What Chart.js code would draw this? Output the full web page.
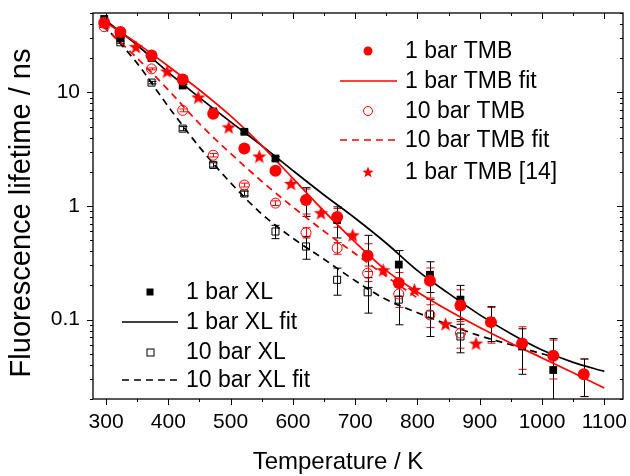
<!DOCTYPE html>
<html>
<head>
<meta charset="utf-8">
<script src="https://cdn.jsdelivr.net/npm/chart.js@4.4.1/dist/chart.umd.min.js"></script>
<style>
  html, body { margin: 0; padding: 0; background: #fff; }
  #wrap { width: 630px; height: 476px; }
</style>
</head>
<body>
<div id="wrap"><canvas id="chart" width="630" height="476"></canvas></div>
<script>
// Temperaturen der Messpunkte (K)
const tempPts = [297, 323, 373, 423, 472, 522, 572, 621, 671, 720, 770, 820, 869, 918, 968, 1018, 1067];
const tempPts10 = tempPts.slice(0, 13);
const tempLit = [348, 398, 448, 497, 546, 597, 645, 696, 745, 795, 845, 894];

// Lebensdauern (ns) und Fehler
const tmb1 = [41, 34, 21.1, 13.0, 6.5, 3.2, 2.04, 1.13, 0.80, 0.365, 0.21, 0.22, 0.133, 0.095, 0.0615, 0.048, 0.033];
const tmb1Err = [0.8, 0.6, 0.4, 0.3, 0.15, 0.1, 0.08, 0.28, 0.15, 0.1, 0.05, 0.065, 0.05, 0.033, 0.025, 0.018, 0.012];
const xl1 = [44.3, 30.5, 20.1, 11.5, 6.8, 4.5, 2.62, 1.13, 0.753, 0.372, 0.305, 0.248, 0.15, 0.097, 0.058, 0.036, 0.033];
const xl1Err = [0.8, 0.6, 0.4, 0.3, 0.2, 0.15, 0.1, 0.32, 0.23, 0.18, 0.1, 0.075, 0.05, 0.033, 0.025, 0.032, 0.012];
const tmb10 = [37.9, 32, 16.1, 6.95, 2.8, 1.53, 1.06, 0.583, 0.426, 0.256, 0.168, 0.11, 0.076];
const tmb10Err = [0.6, 0.5, 0.3, 0.2, 0.1, 0.06, 0.05, 0.06, 0.05, 0.04, 0.04, 0.025, 0.02];
const xl10 = [40, 27.6, 12.2, 4.8, 2.3, 1.29, 0.596, 0.44, 0.224, 0.174, 0.15, 0.111, 0.071];
const xl10Err = [0.6, 0.5, 0.3, 0.2, 0.1, 0.06, 0.08, 0.1, 0.06, 0.06, 0.06, 0.04, 0.02];
const tmbLit = [25.3, 15.4, 9.1, 4.97, 2.75, 1.58, 0.873, 0.557, 0.275, 0.184, 0.092, 0.062];

// Fitkurven
const fitT = [295, 350, 400, 450, 500, 550, 600, 650, 700, 750, 800, 850, 900, 950, 1000, 1050, 1100];
const xl1Fit = [45, 26, 15, 9.0, 5.5, 3.4, 2.05, 1.25, 0.78, 0.47, 0.27, 0.17, 0.11, 0.075, 0.054, 0.042, 0.035];
const tmb1Fit = [43, 27, 17, 10.5, 6.2, 3.4, 1.75, 0.9, 0.48, 0.27, 0.175, 0.12, 0.085, 0.062, 0.046, 0.034, 0.025];
const tmb10FitT = [295, 350, 400, 450, 500, 550, 600, 650, 700, 750, 800];
const tmb10Fit = [38, 20, 10.5, 5.3, 2.9, 1.65, 0.98, 0.6, 0.38, 0.24, 0.155];
const xl10FitT = [295, 350, 400, 450, 500, 550, 600, 650, 700, 750, 800, 850, 900, 950, 1000, 1025];
const xl10Fit = [40, 18, 7.5, 3.3, 1.6, 0.85, 0.52, 0.34, 0.22, 0.15, 0.115, 0.09, 0.072, 0.06, 0.05, 0.046];

// Achsen
const xTicks = [300, 400, 500, 600, 700, 800, 900, 1000, 1100];
const yTicks = [0.1, 1, 10];

const ROT = '#ff0000';
const FONT = "'Liberation Sans', Arial, sans-serif";

function pts(xs, ys) {
    return xs.map((x, i) => ({ x: x, y: ys[i] }));
}

function sternPfad(ctx, cx, cy, r) {
    ctx.beginPath();
    for (let i = 0; i < 10; i++) {
        const rr = i % 2 === 0 ? r : r * 0.42;
        const ang = -Math.PI / 2 + i * Math.PI / 5;
        const px = cx + rr * Math.cos(ang), py = cy + rr * Math.sin(ang);
        if (i === 0) ctx.moveTo(px, py); else ctx.lineTo(px, py);
    }
    ctx.closePath();
}

function sternBild(size) {
    const c = document.createElement('canvas');
    c.width = c.height = size;
    const g = c.getContext('2d');
    g.fillStyle = ROT;
    sternPfad(g, size / 2, size / 2 + size * 0.06, size / 2);
    g.fill();
    return c;
}

const fehlerBalken = {
    id: 'fehlerBalken',
    beforeDatasetsDraw(chart) {
        const ctx = chart.ctx, a = chart.chartArea, ys = chart.scales.y;
        ctx.save();
        ctx.beginPath();
        ctx.rect(a.left, a.top, a.right - a.left, a.bottom - a.top);
        ctx.clip();
        chart.data.datasets.forEach((ds, di) => {
            if (!ds.fehler) return;
            const meta = chart.getDatasetMeta(di);
            ctx.strokeStyle = ds.borderColor;
            ctx.lineWidth = 1;
            meta.data.forEach((el, i) => {
                const v = ds.data[i].y, e = ds.fehler[i];
                const top = ys.getPixelForValue(v + e);
                const lo = v - e > 0 ? ys.getPixelForValue(v - e) : a.bottom + 5;
                const x = Math.round(el.x) + 0.5;
                ctx.beginPath();
                ctx.moveTo(x, top); ctx.lineTo(x, lo);
                ctx.moveTo(x - 4, top); ctx.lineTo(x + 4, top);
                ctx.moveTo(x - 4, lo); ctx.lineTo(x + 4, lo);
                ctx.stroke();
            });
        });
        ctx.restore();
    }
};

const rahmen = {
    id: 'rahmen',
    afterDraw(chart) {
        const ctx = chart.ctx, a = chart.chartArea;
        const xs = chart.scales.x, ys = chart.scales.y;
        ctx.save();
        ctx.strokeStyle = '#000';
        ctx.lineWidth = 1.3;
        ctx.strokeRect(a.left, a.top, a.right - a.left, a.bottom - a.top);

        ctx.lineWidth = 1;
        ctx.beginPath();
        for (let t = 300; t <= 1100; t += 50) {
            const px = Math.round(xs.getPixelForValue(t)) + 0.5;
            const len = t % 100 === 0 ? 6 : 3;
            ctx.moveTo(px, a.bottom); ctx.lineTo(px, a.bottom + len);
            ctx.moveTo(px, a.top); ctx.lineTo(px, a.top + len);
        }
        [0.01, 0.1, 1, 10].forEach(d => {
            for (let k = 1; k <= 9; k++) {
                const v = k * d;
                if (v < 0.02 || v > 50) continue;
                const py = Math.round(ys.getPixelForValue(v)) + 0.5;
                const len = k === 1 ? 6 : 3;
                ctx.moveTo(a.left, py); ctx.lineTo(a.left - len, py);
                ctx.moveTo(a.right, py); ctx.lineTo(a.right - len, py);
            }
        });
        ctx.stroke();

        // Achsentitel
        ctx.fillStyle = '#000';
        ctx.textAlign = 'center';
        ctx.textBaseline = 'middle';
        ctx.font = '24px ' + FONT;
        ctx.fillText('Temperature / K', 338, 462);
        ctx.save();
        ctx.translate(22, 213);
        ctx.rotate(-Math.PI / 2);
        ctx.font = '29px ' + FONT;
        ctx.fillText('Fluorescence lifetime / ns', 0, 0);
        ctx.restore();

        // Legenden
        const eintraege = [
            { x: 368, y: 51, typ: 'kreis', farbe: ROT, text: '1 bar TMB', tx: 405 },
            { x: 368, y: 81, typ: 'linie', farbe: ROT, text: '1 bar TMB fit', tx: 405, l: 340, r: 397 },
            { x: 368, y: 111, typ: 'kreisOffen', farbe: ROT, text: '10 bar TMB', tx: 405 },
            { x: 368, y: 140, typ: 'strich', farbe: ROT, text: '10 bar TMB fit', tx: 405, l: 340, r: 397 },
            { x: 368, y: 172, typ: 'stern', farbe: ROT, text: '1 bar TMB [14]', tx: 405 },
            { x: 150, y: 292, typ: 'quadrat', farbe: '#000', text: '1 bar XL', tx: 186 },
            { x: 150, y: 322, typ: 'linie', farbe: '#000', text: '1 bar XL fit', tx: 186, l: 122, r: 178 },
            { x: 150, y: 352, typ: 'quadratOffen', farbe: '#000', text: '10 bar XL', tx: 186 },
            { x: 150, y: 380, typ: 'strich', farbe: '#000', text: '10 bar XL fit', tx: 186, l: 122, r: 178 }
        ];
        ctx.font = '23px ' + FONT;
        ctx.textAlign = 'left';
        eintraege.forEach(e => {
            ctx.fillStyle = e.farbe;
            ctx.strokeStyle = e.farbe;
            ctx.lineWidth = 1;
            ctx.setLineDash([]);
            if (e.typ === 'kreis') {
                ctx.beginPath(); ctx.arc(e.x, e.y, 4.5, 0, Math.PI * 2); ctx.fill();
            } else if (e.typ === 'kreisOffen') {
                ctx.beginPath(); ctx.arc(e.x, e.y, 4.5, 0, Math.PI * 2); ctx.stroke();
            } else if (e.typ === 'quadrat') {
                ctx.fillRect(e.x - 3.5, e.y - 3.5, 7, 7);
            } else if (e.typ === 'quadratOffen') {
                ctx.strokeRect(e.x - 3, e.y - 3, 7, 7);
            } else if (e.typ === 'stern') {
                sternPfad(ctx, e.x, e.y + 0.5, 6); ctx.fill();
            } else {
                ctx.lineWidth = 1.6;
                if (e.typ === 'strich') ctx.setLineDash([7, 5]);
                ctx.beginPath(); ctx.moveTo(e.l, e.y); ctx.lineTo(e.r, e.y); ctx.stroke();
                ctx.setLineDash([]);
            }
            ctx.fillStyle = '#000';
            ctx.fillText(e.text, e.tx, e.y + 1);
        });
        ctx.restore();
    }
};

const sternPunkt = sternBild(15);

function fitLinie(label, xs, ys, farbe, gestrichelt) {
    return {
        label: label, data: pts(xs, ys), showLine: true, pointRadius: 0,
        borderColor: farbe, borderWidth: 1.7, borderDash: gestrichelt ? [7, 5] : [],
        cubicInterpolationMode: 'monotone', order: 10
    };
}

new Chart(document.getElementById('chart'), {
    type: 'scatter',
    data: {
        datasets: [
            { label: '1 bar TMB', data: pts(tempPts, tmb1), fehler: tmb1Err, pointStyle: 'circle', pointRadius: 6,
              backgroundColor: ROT, borderColor: ROT, borderWidth: 0, order: 1 },
            { label: '1 bar TMB [14]', data: pts(tempLit, tmbLit), pointStyle: sternPunkt,
              backgroundColor: ROT, borderColor: ROT, order: 2 },
            { label: '1 bar XL', data: pts(tempPts, xl1), fehler: xl1Err, pointStyle: 'rect', pointRadius: 5.5,
              backgroundColor: '#000', borderColor: '#000', borderWidth: 0, order: 3 },
            { label: '10 bar TMB', data: pts(tempPts10, tmb10), fehler: tmb10Err, pointStyle: 'circle', pointRadius: 5,
              backgroundColor: 'rgba(0,0,0,0)', borderColor: ROT, borderWidth: 1, order: 4 },
            { label: '10 bar XL', data: pts(tempPts10, xl10), fehler: xl10Err, pointStyle: 'rect', pointRadius: 5,
              backgroundColor: 'rgba(0,0,0,0)', borderColor: '#000', borderWidth: 1, order: 5 },
            fitLinie('1 bar TMB fit', fitT, tmb1Fit, ROT, false),
            fitLinie('10 bar TMB fit', tmb10FitT, tmb10Fit, ROT, true),
            fitLinie('1 bar XL fit', fitT, xl1Fit, '#000', false),
            fitLinie('10 bar XL fit', xl10FitT, xl10Fit, '#000', true)
        ]
    },
    options: {
        responsive: false,
        animation: false,
        devicePixelRatio: 1,
        layout: { padding: { top: 13, right: 7, left: 0, bottom: 0 } },
        plugins: { legend: { display: false }, tooltip: { enabled: false } },
        scales: {
            x: {
                type: 'linear', min: 279, max: 1130,
                afterBuildTicks: s => { s.ticks = xTicks.map(v => ({ value: v })); },
                afterFit: s => { s.height = 77; s.paddingLeft = 0; s.paddingRight = 0; },
                grid: { display: false, drawTicks: false },
                border: { display: false },
                ticks: { color: '#000', font: { family: FONT, size: 21 }, padding: 11, maxRotation: 0,
                         callback: v => String(v) }
            },
            y: {
                type: 'logarithmic', min: 0.02, max: 50,
                afterBuildTicks: s => { s.ticks = yTicks.map(v => ({ value: v })); },
                afterFit: s => { s.width = 93; s.paddingTop = 0; s.paddingBottom = 0; },
                grid: { display: false, drawTicks: false },
                border: { display: false },
                ticks: { color: '#000', font: { family: FONT, size: 21 }, padding: 13,
                         callback: v => String(v) }
            }
        }
    },
    plugins: [fehlerBalken, rahmen]
});
</script>
</body>
</html>
